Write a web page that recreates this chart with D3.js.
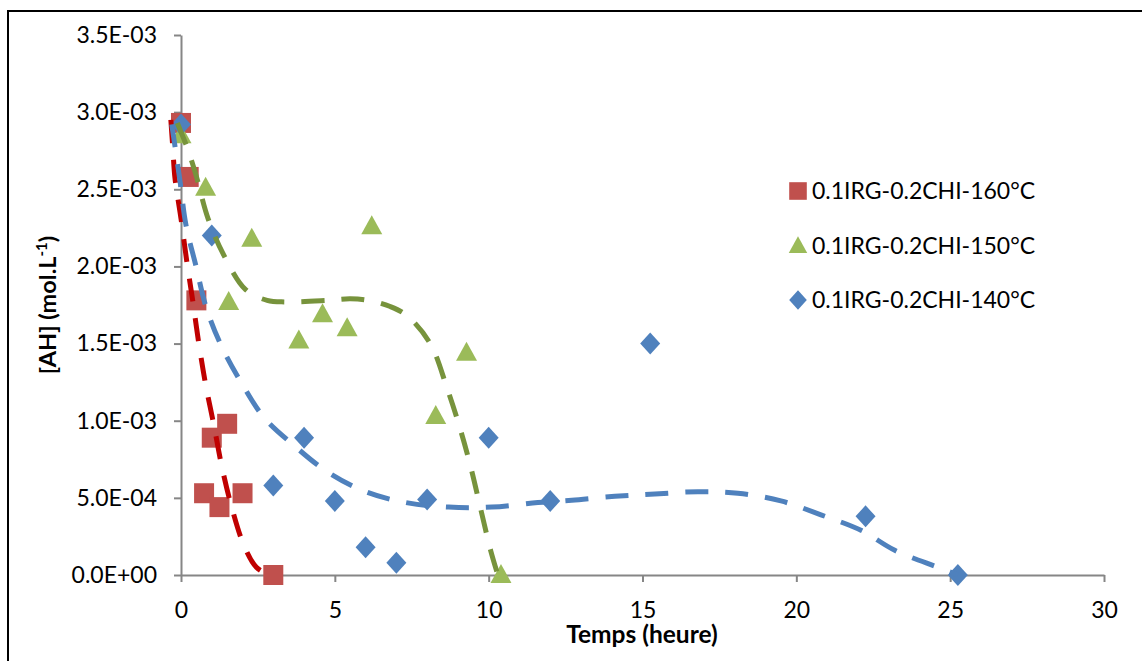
<!DOCTYPE html>
<html><head><meta charset="utf-8">
<script src="https://cdn.jsdelivr.net/npm/d3@7"></script>
<style>body{margin:0;background:#fff} svg{display:block}</style>
</head><body><svg id="c" width="1142" height="661"></svg>
<script>
// ---- data ----
const xTicks = [0, 5, 10, 15, 20, 25, 30];
const yTicks = [0, 0.0005, 0.001, 0.0015, 0.002, 0.0025, 0.003, 0.0035];
const yTickLabels = ["0.0E+00","5.0E-04","1.0E-03","1.5E-03","2.0E-03","2.5E-03","3.0E-03","3.5E-03"];

const seriesNames = ["0.1IRG-0.2CHI-160°C", "0.1IRG-0.2CHI-150°C", "0.1IRG-0.2CHI-140°C"];

// 160°C (squares)
const t160  = [0, 0.25, 0.5, 0.75, 1, 1.25, 1.5, 2, 3];
const ah160 = [0.00293, 0.00258, 0.00178, 0.00053, 0.00089, 0.00044, 0.00098, 0.00053, 0];
// 150°C (triangles)
const t150  = [0, 0.8, 1.55, 2.3, 3.83, 4.6, 5.4, 6.2, 8.28, 9.28, 10.4];
const ah150 = [0.00285, 0.00251, 0.00177, 0.00218, 0.00152, 0.00169, 0.00160, 0.00226, 0.00103, 0.00144, 0];
// 140°C (diamonds)
const t140  = [0, 1, 3, 4, 5, 6, 7, 8, 10, 12, 15.25, 22.25, 25.25];
const ah140 = [0.00292, 0.00220, 0.00058, 0.00089, 0.00048, 0.00018, 0.00008, 0.00049, 0.00089, 0.00048, 0.00150, 0.00038, 0];

// trend curves
const tr160X = [-0.33, -0.27, -0.2, -0.1, 0, 0.19, 0.38, 0.58, 0.81, 1.07, 1.33, 1.66, 2.05, 2.45, 2.85];
const tr160Y = [0.00295, 0.00278, 0.00258, 0.00244, 0.00231, 0.00203, 0.00178, 0.00150, 0.001225, 0.00097, 0.00070, 0.00043, 0.00019, 0.00005, 0];
const tr150X = [-0.12, 0.2, 0.49, 0.88, 1.4, 2.1, 2.8, 3.4, 4.75, 5.5, 6.1, 6.8, 7.35, 8.1, 8.65, 9.07, 9.43, 9.75, 10.07, 10.3];
const tr150Y = [0.00293, 0.00277, 0.00259, 0.00231, 0.00207, 0.00185, 0.00178, 0.00177, 0.00178, 0.00179, 0.00178, 0.00174, 0.00168, 0.00150, 0.00121, 0.00095, 0.00069, 0.00042, 0.000155, 0];
const tr140X = [-0.3, -0.03, 0.16, 0.49, 0.81, 1.3, 1.95, 2.7, 3.67, 4.75, 6.0, 7.3, 8.7, 10.1, 11.6, 12.7, 14.1, 15.4, 16.8, 18.1, 19.5, 20.8, 22.1, 23.2, 24.6, 25.25];
const tr140Y = [0.00292, 0.00255, 0.00227, 0.00200, 0.00174, 0.00149, 0.00125, 0.00102, 0.00084, 0.00067, 0.00054, 0.00047, 0.00044, 0.00044, 0.00047, 0.000485, 0.00051, 0.000525, 0.00054, 0.00053, 0.00048, 0.00039, 0.00029, 0.00016, 0.00005, 0];

// ---- drawing ----
const FONT = "Lato, 'Liberation Sans', Arial, sans-serif";
const svg = d3.select("#c");
svg.append("rect").attr("x", 8).attr("y", 11).attr("width", 1200).attr("height", 700)
  .attr("fill", "#fff").attr("stroke", "#000").attr("stroke-width", 2);

const x = d3.scaleLinear().domain([0, 30]).range([181, 1104]);
const y = d3.scaleLinear().domain([0, 0.0035]).range([575, 35]);

const yAxis = svg.append("g").attr("transform", "translate(181,0)")
  .call(d3.axisLeft(y).tickValues(yTicks).tickFormat((d, i) => yTickLabels[i]).tickSize(7).tickSizeOuter(0).tickPadding(17));
const xAxis = svg.append("g").attr("transform", "translate(0,575)")
  .call(d3.axisBottom(x).tickValues(xTicks).tickFormat(d3.format("d")).tickSize(7).tickSizeOuter(0).tickPadding(20));
[xAxis, yAxis].forEach(g => {
  g.selectAll("path,line").attr("stroke", "#868686").attr("stroke-width", 2);
  g.selectAll("text").attr("font-family", FONT).attr("font-size", 23).attr("fill", "#000");
});

const colors = { m160: "#C0504D", m150: "#9BBB59", m140: "#4F81BD", l160: "#C00000", l150: "#77933C", l140: "#4F81BD" };

function marker(sel, type, color) {
  if (type === "square") sel.attr("d", "M-10,-10H10V10H-10Z");
  else if (type === "triangle") sel.attr("d", "M0,-11L10.5,8L-10.5,8Z");
  else sel.attr("d", "M0,-11L10,0L0,11L-10,0Z");
  sel.attr("fill", color);
}

const pts = [
  { t: t160, v: ah160, type: "square", c: colors.m160 },
  { t: t150, v: ah150, type: "triangle", c: colors.m150 },
  { t: t140, v: ah140, type: "diamond", c: colors.m140 }
];
pts.forEach(s => {
  svg.append("g").selectAll("path").data(s.t.map((t, i) => [t, s.v[i]])).join("path")
    .attr("transform", d => `translate(${x(d[0])},${y(d[1])})`)
    .call(marker, s.type, s.c);
});

const line = d3.line().x(d => x(d[0])).y(d => y(d[1])).curve(d3.curveCatmullRom.alpha(0.5));
const trends = [
  { X: tr160X, Y: tr160Y, c: colors.l160 },
  { X: tr140X, Y: tr140Y, c: colors.l140 },
  { X: tr150X, Y: tr150Y, c: colors.l150 }
];
trends.forEach(tr => {
  svg.append("path").datum(tr.X.map((t, i) => [t, tr.Y[i]]))
    .attr("d", line).attr("fill", "none").attr("stroke", tr.c)
    .attr("stroke-width", 5).attr("stroke-dasharray", "23,17");
});

// legend
const legTypes = ["square", "triangle", "diamond"];
const legColors = [colors.m160, colors.m150, colors.m140];
const legY = [191, 246, 300];
const leg = svg.append("g");
seriesNames.forEach((n, i) => {
  leg.append("path").attr("transform", `translate(798,${legY[i]}) scale(0.88)`).call(marker, legTypes[i], legColors[i]);
  leg.append("text").attr("x", 812).attr("y", legY[i] + 8).text(n)
    .attr("font-family", FONT).attr("font-size", 23).attr("fill", "#000");
});

// axis titles
svg.append("text").attr("x", 642).attr("y", 643).attr("text-anchor", "middle")
  .attr("font-family", FONT).attr("font-size", 24.5).attr("font-weight", "bold").text("Temps (heure)");
const yt = svg.append("text").attr("transform", "translate(56,305) rotate(-90)").attr("text-anchor", "middle")
  .attr("font-family", FONT).attr("font-size", 23.5).attr("font-weight", "bold");
yt.append("tspan").text("[AH] (mol.L");
yt.append("tspan").attr("font-size", 15).attr("dy", -9).text("-1");
yt.append("tspan").attr("dy", 9).text(")");
</script>
</body></html>
